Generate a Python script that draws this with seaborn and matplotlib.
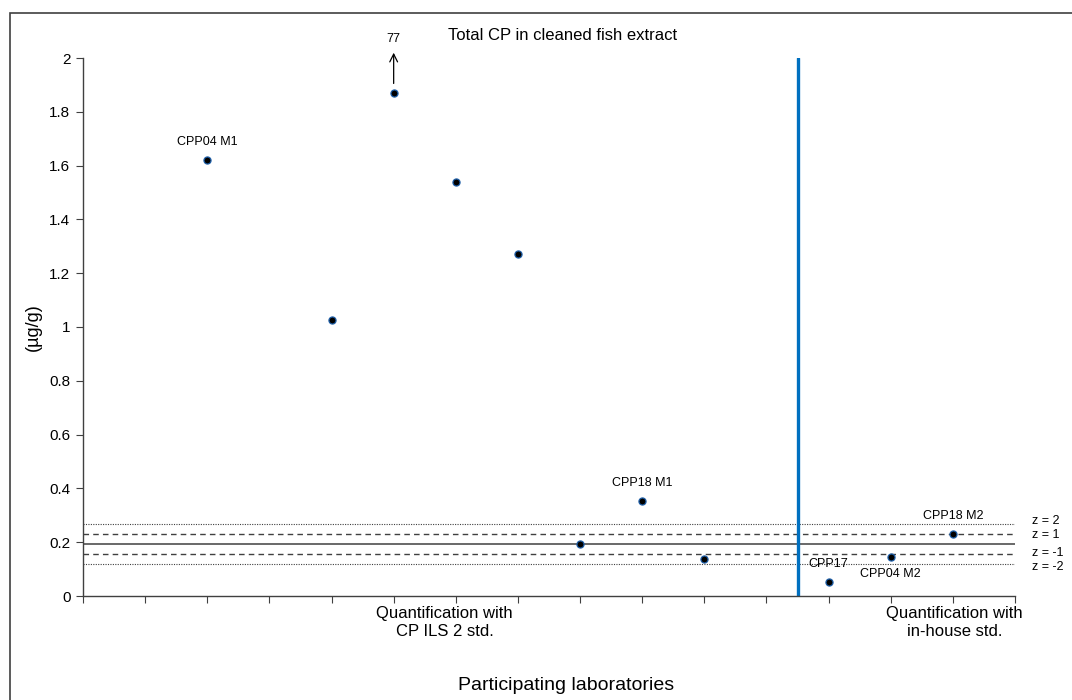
import numpy as np
import pandas as pd
import matplotlib
matplotlib.use("Agg")
import matplotlib.pyplot as plt
from matplotlib.patches import Rectangle
import seaborn as sns

# Laboratory results (µg/g) at their x slots
lab_pos = [2, 4, 5, 6, 7, 8, 9, 10, 12, 13, 14]
lab_val = [1.62, 1.025, 1.87, 1.54, 1.27, 0.193, 0.353, 0.137, 0.052, 0.144, 0.230]
lab_names = ["CPP04 M1", "", "", "", "", "", "CPP18 M1", "", "CPP17", "CPP04 M2", "CPP18 M2"]

# z-score reference lines
z_labels = ["z = 2", "z = 1", "z = -1", "z = -2"]
assigned_value = 0.194
sd = 0.0375
z_levels = [2, 1, -1, -2]

group_labels = ["Quantification with\nCP ILS 2 std.", "Quantification with\nin-house std."]
group_pos = [5.82, 14.03]
divider = 11.5
off_scale_value = "77"

sns.set_theme(style="white")
plt.rcParams["font.family"] = ["Liberation Sans", "DejaVu Sans"]
plt.rcParams["text.color"] = "black"
plt.rcParams["ytick.labelcolor"] = "black"

fig = plt.figure(figsize=(10.72, 7.0), dpi=100)
ax = fig.add_axes([83 / 1072, 1 - 596 / 700, (1015 - 83) / 1072, (596 - 58) / 700])

# outer frame
fig.patches.append(Rectangle((10 / 1072, -0.05), 1.2, 1 - 13 / 700 + 0.05,
                             transform=fig.transFigure, fill=False,
                             edgecolor="#404040", linewidth=1.2, zorder=0))

# reference lines
ax.axhline(assigned_value, color="#404040", lw=1.1, zorder=1)
for z in z_levels:
    ls = (0, (4, 3)) if abs(z) == 1 else (0, (1, 1.2))
    lw = 1.0 if abs(z) == 1 else 0.8
    ax.axhline(assigned_value + z * sd, color="#404040", lw=lw, ls=ls, zorder=1)

ax.axvline(divider, ymin=0, ymax=1, color="#0070C0", lw=2.4, zorder=2)

df = pd.DataFrame({"pos": lab_pos, "val": lab_val})
sns.scatterplot(data=df, x="pos", y="val", ax=ax, color="black",
                edgecolor="#1f5fa8", linewidth=0.9, s=26, zorder=3, legend=False)
ax.set_xlabel("")
ax.set_ylabel("")

ax.set_xlim(0, 15)
ax.set_ylim(0, 2)
ax.set_xticks(np.arange(0, 16))
ax.set_xticklabels([])
yt = np.round(np.arange(0, 2.01, 0.2), 1)
ax.set_yticks(yt)
ax.set_yticklabels([f"{v:g}" for v in yt], fontsize=11, color="black")
ax.tick_params(axis="both", direction="out", length=5, width=0.8, color="#404040",
               left=True, bottom=True, pad=4)
for s in ["top", "right"]:
    ax.spines[s].set_visible(False)
for s in ["left", "bottom"]:
    ax.spines[s].set_color("#404040")
    ax.spines[s].set_linewidth(1.0)

# point labels
for p, v, n in zip(lab_pos, lab_val, lab_names):
    if not n:
        continue
    if n == "CPP04 M2":
        ax.annotate(n, (p, v), xytext=(0, -8), textcoords="offset points",
                    ha="center", va="top", fontsize=9)
    else:
        ax.annotate(n, (p, v), xytext=(0, 9), textcoords="offset points",
                    ha="center", va="bottom", fontsize=9)

# off-scale marker
top_idx = lab_val.index(max(lab_val))
ax.annotate("", xy=(lab_pos[top_idx], 2.03), xytext=(lab_pos[top_idx], lab_val[top_idx] + 0.025),
            xycoords="data", arrowprops=dict(arrowstyle="->", color="black", lw=0.9,
                                            mutation_scale=14), annotation_clip=False)
ax.text(lab_pos[top_idx], 2.05, off_scale_value, ha="center", va="bottom", fontsize=9,
        clip_on=False)

# z labels outside right edge
z_offsets = {2: 2, 1: -1, -1: 1, -2: -2}
for z, lab in zip(z_levels, z_labels):
    ax.annotate(lab, (1.0, assigned_value + z * sd), xycoords=("axes fraction", "data"),
                xytext=(12, z_offsets[z]), textcoords="offset points",
                ha="left", va="center", fontsize=9, annotation_clip=False)

# group labels under the axis
for gp, gl in zip(group_pos, group_labels):
    ax.annotate(gl, (gp, 0), xycoords="data", xytext=(0, -7), textcoords="offset points",
                ha="center", va="top", fontsize=12, linespacing=1.3, annotation_clip=False)

fig.text(566 / 1072, 1 - 686 / 700, "Participating laboratories",
         ha="center", va="center", fontsize=14)
fig.text(33 / 1072, 1 - 327 / 700, "(µg/g)", rotation=90,
         ha="center", va="center", fontsize=13)

fig.text(563 / 1072, 1 - 35 / 700, "Total CP in cleaned fish extract",
         ha="center", va="center", fontsize=12)

fig.savefig("out.png", dpi=100)
